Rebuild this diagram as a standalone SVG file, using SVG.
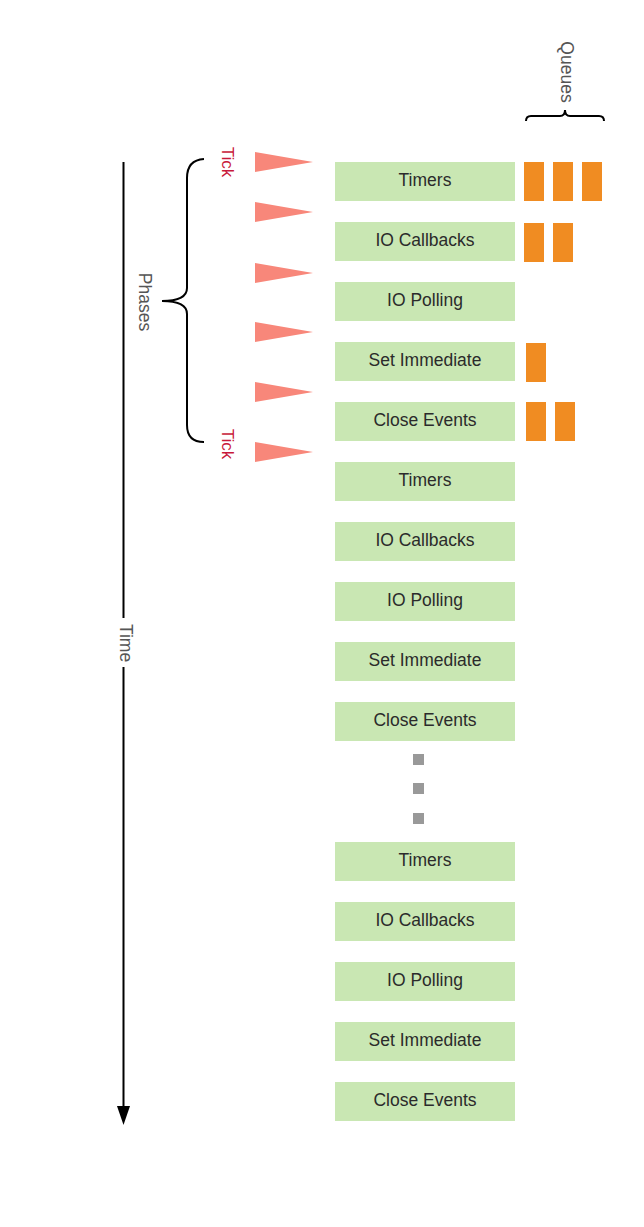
<svg xmlns="http://www.w3.org/2000/svg" width="644" height="1227" viewBox="0 0 644 1227">
<style>
.box{fill:#c9e7b3}
.lbl{font-family:"Liberation Sans",Arial,sans-serif;font-size:17.5px;fill:#2b2b2b;text-anchor:middle}
.q{fill:#f08c22}
.tri{fill:#f8877a}
.tick{font-family:"Liberation Sans",Arial,sans-serif;font-size:17px;fill:#c8193a;text-anchor:middle;dominant-baseline:central}
.side{font-family:"Liberation Sans",Arial,sans-serif;font-size:17.5px;fill:#555;text-anchor:middle;dominant-baseline:central}
.brace{fill:none;stroke:#000;stroke-width:2}
.dot{fill:#999}
</style>
<rect width="644" height="1227" fill="#fff"/>

<g id="connectors">
<line x1="123.5" y1="162" x2="123.5" y2="618" stroke="#000" stroke-width="2"/>
<line x1="123.5" y1="667" x2="123.5" y2="1106" stroke="#000" stroke-width="2"/>
<polygon points="117,1106 130,1106 123.5,1125" fill="#000"/>
</g>

<g id="time-label"><text class="side" transform="translate(126,643) rotate(90)">Time</text></g>

<g id="phases-brace">
<path class="brace" d="M204,159 Q187,160 187,178 L187,288 Q187,301 162,301 Q187,301 187,314 L187,425 Q187,442 204,442"/>
<text class="side" transform="translate(145,302) rotate(90)">Phases</text>
</g>

<g id="queues-brace">
<path class="brace" d="M526,121 Q526,116 531,116 L560,116 Q565,116 565,110 Q565,116 570,116 L599,116 Q604,116 604,121"/>
<text class="side" transform="translate(567,72) rotate(90)">Queues</text>
</g>

<g id="ticks">
<text class="tick" transform="translate(227,162) rotate(90)">Tick</text>
<text class="tick" transform="translate(227,444) rotate(90)">Tick</text>
</g>

<g id="triangles">
<polygon class="tri" points="255,152 255,172 313,162"/>
<polygon class="tri" points="255,202 255,222 313,212"/>
<polygon class="tri" points="255,263 255,283 313,273"/>
<polygon class="tri" points="255,322 255,342 313,332"/>
<polygon class="tri" points="255,382 255,402 313,392"/>
<polygon class="tri" points="255,442 255,462 313,452"/>
</g>

<g id="n1"><rect class="box" x="335" y="162" width="180" height="39"/><text class="lbl" x="425" y="186">Timers</text></g>
<g id="n2"><rect class="box" x="335" y="222" width="180" height="39"/><text class="lbl" x="425" y="246">IO Callbacks</text></g>
<g id="n3"><rect class="box" x="335" y="282" width="180" height="39"/><text class="lbl" x="425" y="306">IO Polling</text></g>
<g id="n4"><rect class="box" x="335" y="342" width="180" height="39"/><text class="lbl" x="425" y="366">Set Immediate</text></g>
<g id="n5"><rect class="box" x="335" y="402" width="180" height="39"/><text class="lbl" x="425" y="426">Close Events</text></g>

<g id="n6"><rect class="box" x="335" y="462" width="180" height="39"/><text class="lbl" x="425" y="486">Timers</text></g>
<g id="n7"><rect class="box" x="335" y="522" width="180" height="39"/><text class="lbl" x="425" y="546">IO Callbacks</text></g>
<g id="n8"><rect class="box" x="335" y="582" width="180" height="39"/><text class="lbl" x="425" y="606">IO Polling</text></g>
<g id="n9"><rect class="box" x="335" y="642" width="180" height="39"/><text class="lbl" x="425" y="666">Set Immediate</text></g>
<g id="n10"><rect class="box" x="335" y="702" width="180" height="39"/><text class="lbl" x="425" y="726">Close Events</text></g>

<g id="ellipsis">
<rect class="dot" x="413" y="754" width="11" height="11"/>
<rect class="dot" x="413" y="783" width="11" height="11"/>
<rect class="dot" x="413" y="813" width="11" height="11"/>
</g>

<g id="n11"><rect class="box" x="335" y="842" width="180" height="39"/><text class="lbl" x="425" y="866">Timers</text></g>
<g id="n12"><rect class="box" x="335" y="902" width="180" height="39"/><text class="lbl" x="425" y="926">IO Callbacks</text></g>
<g id="n13"><rect class="box" x="335" y="962" width="180" height="39"/><text class="lbl" x="425" y="986">IO Polling</text></g>
<g id="n14"><rect class="box" x="335" y="1022" width="180" height="39"/><text class="lbl" x="425" y="1046">Set Immediate</text></g>
<g id="n15"><rect class="box" x="335" y="1082" width="180" height="39"/><text class="lbl" x="425" y="1106">Close Events</text></g>

<g id="queues">
<rect class="q" x="524" y="162" width="20" height="39"/>
<rect class="q" x="553" y="162" width="20" height="39"/>
<rect class="q" x="582" y="162" width="20" height="39"/>
<rect class="q" x="524" y="223" width="20" height="39"/>
<rect class="q" x="553" y="223" width="20" height="39"/>
<rect class="q" x="526" y="343" width="20" height="39"/>
<rect class="q" x="526" y="402" width="20" height="39"/>
<rect class="q" x="555" y="402" width="20" height="39"/>
</g>
</svg>
